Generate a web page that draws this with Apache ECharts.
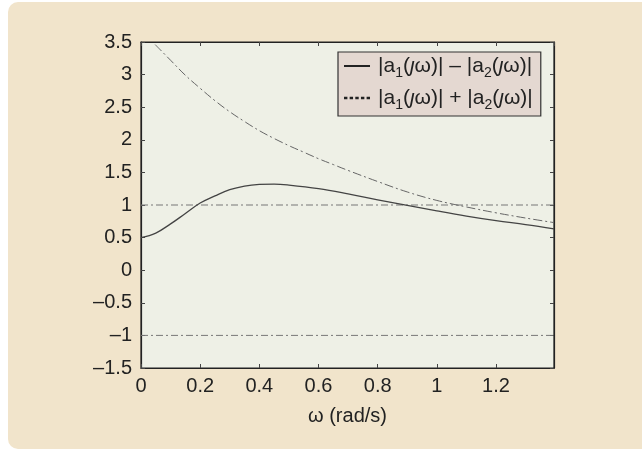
<!DOCTYPE html>
<html>
<head>
<meta charset="utf-8">
<script src="https://cdn.jsdelivr.net/npm/echarts@6/dist/echarts.min.js"></script>
<style>
html,body{margin:0;padding:0;background:#ffffff;}
#chart{width:642px;height:449px;}
</style>
</head>
<body>
<div id="chart"></div>
<script>
// ---- data ----
var omegaDiff = [0, 0.05, 0.1, 0.15, 0.2, 0.25, 0.3, 0.35, 0.4, 0.45, 0.5, 0.6, 0.7, 0.8, 0.9, 1.0, 1.1, 1.2, 1.3, 1.396];
var diffValues = [0.5, 0.57, 0.71, 0.87, 1.03, 1.14, 1.235, 1.29, 1.315, 1.32, 1.305, 1.25, 1.17, 1.08, 0.995, 0.91, 0.83, 0.76, 0.70, 0.635];
var omegaSum = [0.048, 0.1, 0.15, 0.2, 0.25, 0.3, 0.35, 0.4, 0.45, 0.5, 0.55, 0.6, 0.65, 0.7, 0.8, 0.9, 1.0, 1.1, 1.2, 1.3, 1.396];
var sumValues = [3.46, 3.22, 2.99, 2.79, 2.60, 2.43, 2.28, 2.14, 2.02, 1.91, 1.81, 1.71, 1.62, 1.53, 1.36, 1.20, 1.07, 0.97, 0.88, 0.80, 0.73];
var limitLevels = [1, -1];
var xRange = [0, 1.396];
var yTicks = ['–1.5', '–1', '–0.5', '0', '0.5', '1', '1.5', '2', '2.5', '3', '3.5'];
var xTicks = ['0', '0.2', '0.4', '0.6', '0.8', '1', '1.2'];
var seriesNames = ['diff', 'sum'];

var chart = echarts.init(document.getElementById('chart'));

function pairs(xs, ys) { return xs.map(function (x, i) { return [x, ys[i]]; }); }

var FONT = 'Liberation Sans, Arial, sans-serif';

var yFormatter = function (v) {
  var idx = Math.round((v + 1.5) / 0.5);
  return yTicks[idx] !== undefined ? yTicks[idx] : '';
};
var xFormatter = function (v) {
  var idx = Math.round(v / 0.2);
  if (Math.abs(v - idx * 0.2) > 1e-6) return '';
  return xTicks[idx] !== undefined ? xTicks[idx] : '';
};

var limitSeries = limitLevels.map(function (lv) {
  return {
    type: 'line', name: 'limit' + lv, xAxisIndex: 0, yAxisIndex: 0,
    data: [[xRange[0], lv], [xRange[1], lv]],
    symbol: 'none', silent: true,
    lineStyle: { color: '#777', width: 1, type: [7, 3, 2, 3] }
  };
});

var richLabel = {
  t: { fontSize: 21, fontFamily: FONT, color: '#222', lineHeight: 28 },
  s: { fontSize: 14, fontFamily: FONT, color: '#222', verticalAlign: 'bottom', lineHeight: 28, padding: [10, 0, 0, 0] },
  j: { fontSize: 21, fontFamily: FONT, color: '#222', fontStyle: 'italic', lineHeight: 28 }
};

var axisCommon = {
  axisLine: { show: true, onZero: false, lineStyle: { color: '#222', width: 1.2 } },
  axisTick: { show: true, inside: true, length: 4, lineStyle: { color: '#444' } },
  splitLine: { show: false }
};

var option = {
  animation: false,
  backgroundColor: 'transparent',
  graphic: [{
    type: 'rect', z: -10, silent: true,
    shape: { x: 8, y: 2, width: 640, height: 447, r: [10, 0, 4, 10] },
    style: { fill: '#f1e4cb' }
  }],
  grid: {
    left: 141, top: 42, right: 88, bottom: 81,
    show: true, backgroundColor: '#eef0e6', borderColor: '#222', borderWidth: 1.2
  },
  legend: {
    show: true,
    left: 338, top: 52,
    orient: 'vertical',
    backgroundColor: '#e4d8d1',
    borderColor: '#333', borderWidth: 1.2, borderRadius: 0,
    padding: [0, 8, 4, 6],
    itemGap: 4,
    itemWidth: 26, itemHeight: 12,
    data: [
      { name: 'diff', icon: 'path://M0,0 L26,0 L26,2 L0,2 Z', itemStyle: { color: '#222' } },
      { name: 'sum', icon: 'path://M0,0 L3,0 L3,2 L0,2 Z M5,0 L8,0 L8,2 L5,2 Z M10,0 L13,0 L13,2 L10,2 Z M15,0 L18,0 L18,2 L15,2 Z M20,0 L23,0 L23,2 L20,2 Z', itemStyle: { color: '#222' } }
    ],
    formatter: function (name) {
      var op = name === 'diff' ? ' – ' : ' + ';
      return '{t||a}{s|1}{t|(}{j|ȷ}{t|ω)|' + op + '|a}{s|2}{t|(}{j|ȷ}{t|ω)|}';
    },
    textStyle: { rich: richLabel, lineHeight: 28, padding: [0, 0, 0, 3] }
  },
  xAxis: [Object.assign({
    type: 'value', min: xRange[0], max: xRange[1], interval: 0.2,
    name: 'ω (rad/s)', nameLocation: 'middle', nameGap: 38,
    nameTextStyle: { fontSize: 20, fontFamily: FONT, color: '#222' },
    axisLabel: { fontSize: 20, fontFamily: FONT, color: '#222', margin: 8, formatter: xFormatter, showMaxLabel: false }
  }, axisCommon), Object.assign({
    type: 'value', position: 'top', min: xRange[0], max: xRange[1], interval: 0.2,
    axisLabel: { show: false }
  }, axisCommon)],
  yAxis: [Object.assign({
    type: 'value', min: -1.5, max: 3.5, interval: 0.5,
    axisLabel: { fontSize: 20, fontFamily: FONT, color: '#222', margin: 9, formatter: yFormatter }
  }, axisCommon), Object.assign({
    type: 'value', position: 'right', min: -1.5, max: 3.5, interval: 0.5,
    axisLabel: { show: false }
  }, axisCommon)],
  series: limitSeries.concat([
    {
      type: 'line', name: seriesNames[0], data: pairs(omegaDiff, diffValues),
      smooth: 0.4, symbol: 'none',
      lineStyle: { color: '#444', width: 1.3, type: 'solid' },
      itemStyle: { color: '#222' }
    },
    {
      type: 'line', name: seriesNames[1], data: pairs(omegaSum, sumValues),
      smooth: 0.4, symbol: 'none',
      lineStyle: { color: '#666', width: 1, type: [9, 3, 2, 3] },
      itemStyle: { color: '#222' }
    }
  ])
};
chart.setOption(option);
</script>
</body>
</html>
